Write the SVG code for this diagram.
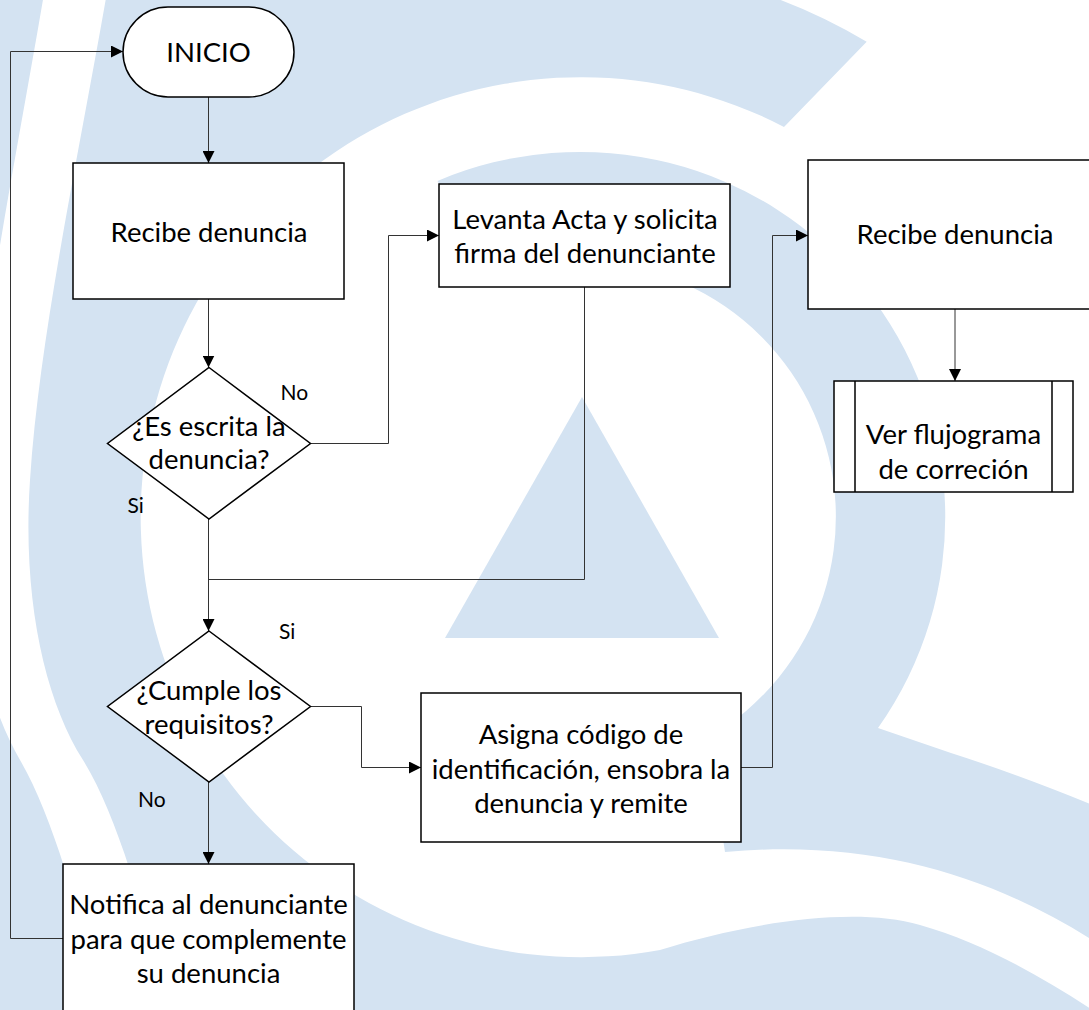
<svg xmlns="http://www.w3.org/2000/svg" width="1089" height="1010" viewBox="0 0 1089 1010">
<defs>
<style>
.bg{fill:#D4E3F2}
.node{fill:#fff;stroke:#000;stroke-width:1.5}
.sub{fill:none;stroke:#000;stroke-width:1.5}
.t{font-family:Lato,"Liberation Sans",sans-serif;font-size:27.5px;fill:#000;text-anchor:middle}
.lbl{font-family:Lato,"Liberation Sans",sans-serif;font-size:21px;fill:#000}
.edge{fill:none;stroke:#333;stroke-width:1}
</style>
<marker id="arr" viewBox="0 0 12 12" markerWidth="12" markerHeight="12" refX="12" refY="6" orient="auto" markerUnits="userSpaceOnUse"><path d="M0,0 L12,6 L0,12 Z" fill="#000"/></marker>
</defs>
<rect width="1089" height="1010" fill="#fff"/>
<g id="watermark" class="bg">
<path d="M-60,-30 L48,-30 C18,150 -20,330 -30,480 C-38,600 -15,700 20,760 C55,820 85,930 110,1040 L-60,1040 Z"/>
<path d="M866.7,41.8 A555,555 0 0 0 746,-12 L746,-25 L110,-25 C80,150 40,330 30,480 C22,600 45,700 83,760 C120,820 150,930 175,1040 L1150,1040 L1150,1045 L1100,1015 C1040,975 980,942 920,925 C850,905 740,925 660,950 A440,440 0 1 1 784,127 Z"/>
<path d="M437.4,181 A365,365 0 0 1 878,728 L951,753 Q1020,775 1100,808 L1100,945 C1000,880 880,838 725,852 L707.5,738 A255,255 0 0 0 501,274.5 Z"/>
<path d="M582,397 L719,638 L445,638 Z"/>
</g>
<g id="connectors">
<path class="edge" d="M208.5,97 V163" marker-end="url(#arr)"/>
<path class="edge" d="M208.5,299 V367.5" marker-end="url(#arr)"/>
<path class="edge" d="M310,443.5 H388.5 V235.5 H439" marker-end="url(#arr)"/>
<path class="edge" d="M208.5,519 V631" marker-end="url(#arr)"/>
<path class="edge" d="M584.5,287 V579.5 H208.5"/>
<path class="edge" d="M310,706.5 H361.5 V767.5 H421" marker-end="url(#arr)"/>
<path class="edge" d="M741,767.5 H772.5 V235.5 H808" marker-end="url(#arr)"/>
<path class="edge" d="M955,309 V381" marker-end="url(#arr)"/>
<path class="edge" d="M208.5,782 V864" marker-end="url(#arr)"/>
<path class="edge" d="M63,938.5 H10.5 V51.5 H123" marker-end="url(#arr)"/>
<text class="lbl" x="280.5" y="399.5">No</text>
<text class="lbl" x="127.5" y="513">Si</text>
<text class="lbl" x="279" y="639">Si</text>
<text class="lbl" x="138" y="806.5">No</text>
</g>
<g id="inicio">
<rect class="node" x="123" y="7" width="171" height="90" rx="45"/>
<text class="t" x="208.5" y="62">INICIO</text>
</g>
<g id="recibe1">
<rect class="node" x="73" y="163" width="271" height="136"/>
<text class="t" x="209" y="242">Recibe denuncia</text>
</g>
<g id="escrita">
<polygon class="node" points="209,367.5 310.5,443.5 209,519 107.5,443.5"/>
<text class="t" x="209" y="436">¿Es escrita la</text>
<text class="t" x="209" y="468.5">denuncia?</text>
</g>
<g id="levanta">
<rect class="node" x="439" y="184" width="291" height="103"/>
<text class="t" x="585" y="228.5">Levanta Acta y solicita</text>
<text class="t" x="585" y="263">firma del denunciante</text>
</g>
<g id="recibe2">
<rect class="node" x="808" y="160" width="294" height="149"/>
<text class="t" x="955" y="244">Recibe denuncia</text>
</g>
<g id="flujograma">
<rect class="node" x="834" y="381" width="239" height="111"/>
<path class="sub" d="M855,381 V492 M1052,381 V492"/>
<text class="t" x="953.5" y="443.5">Ver flujograma</text>
<text class="t" x="953.5" y="478.5">de correción</text>
</g>
<g id="cumple">
<polygon class="node" points="209,631 310.5,706.5 209,782 107.5,706.5"/>
<text class="t" x="209" y="699.5">¿Cumple los</text>
<text class="t" x="209" y="734">requisitos?</text>
</g>
<g id="asigna">
<rect class="node" x="421" y="693" width="320" height="149"/>
<text class="t" x="581" y="743.5">Asigna código de</text>
<text class="t" x="581" y="778.5">identificación, ensobra la</text>
<text class="t" x="581" y="813">denuncia y remite</text>
</g>
<g id="notifica">
<rect class="node" x="63" y="864" width="291" height="148"/>
<text class="t" x="208.5" y="913.5">Notifica al denunciante</text>
<text class="t" x="208.5" y="948.5">para que complemente</text>
<text class="t" x="208.5" y="983">su denuncia</text>
</g>
</svg>
